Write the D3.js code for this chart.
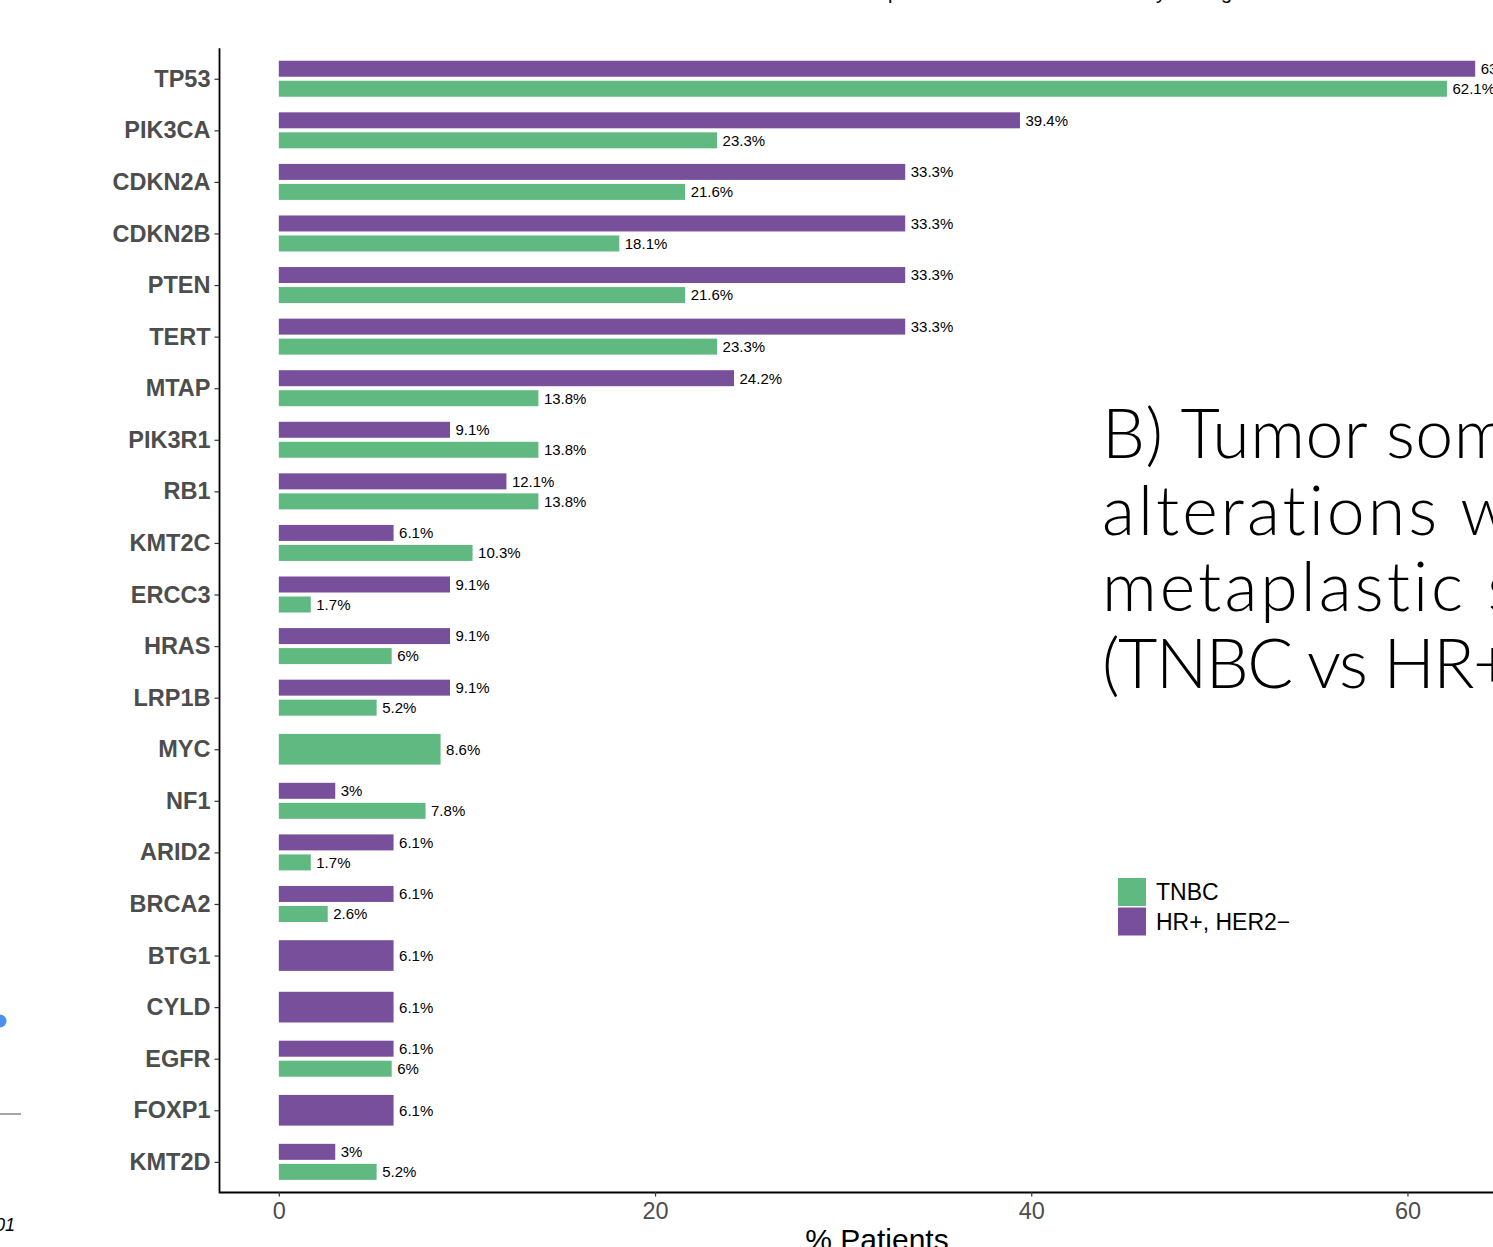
<!DOCTYPE html>
<html>
<head>
<meta charset="utf-8">
<script src="https://cdn.jsdelivr.net/npm/d3@7"></script>
<style>
  html, body { margin: 0; padding: 0; background: #fff; overflow: hidden; }
  svg { display: block; }
</style>
</head>
<body>
<svg id="chart" width="1493" height="1247"></svg>
<script>
// Genes, ordered top to bottom
const genes = ["TP53", "PIK3CA", "CDKN2A", "CDKN2B", "PTEN", "TERT", "MTAP", "PIK3R1",
  "RB1", "KMT2C", "ERCC3", "HRAS", "LRP1B", "MYC", "NF1", "ARID2", "BRCA2", "BTG1",
  "CYLD", "EGFR", "FOXP1", "KMT2D"];

// % of patients with an alteration (null = no alteration in that group)
const hrPos = [63.6, 39.4, 33.3, 33.3, 33.3, 33.3, 24.2, 9.1, 12.1, 6.1, 9.1, 9.1, 9.1,
  null, 3.0, 6.1, 6.1, 6.1, 6.1, 6.1, 6.1, 3.0];
const tnbc = [62.1, 23.3, 21.6, 18.1, 21.6, 23.3, 13.8, 13.8, 13.8, 10.3, 1.7, 6.0, 5.2,
  8.6, 7.8, 1.7, 2.6, null, null, 6.0, null, 5.2];

const seriesNames = ["HR+, HER2\u2212", "TNBC"];
const seriesColors = ["#774f9b", "#60b981"];
const legendOrder = [1, 0];
const xTicks = [0, 20, 40, 60];

const titleLines = ["B) Tumor somatic", "alterations with", "metaplastic subtypes", "(TNBC vs HR+, HER2\u2212)"];

const svg = d3.select("#chart");
const font = "'Liberation Sans', Arial, sans-serif";

// Panel extents
const panel = { left: 219, right: 1535, top: 47, bottom: 1192 };

const maxVal = d3.max([...hrPos, ...tnbc]);
const pad = maxVal * 0.05;
const x = d3.scaleLinear().domain([-pad, maxVal + pad]).range([panel.left, panel.right]);
const y = d3.scalePoint().domain(genes).range([panel.top, panel.bottom]).padding(0.6);
const step = y.step();

// Rows of bars: each gene gets one or two dodged bars
const rows = genes.map((g, i) => {
  const vals = [hrPos[i], tnbc[i]];
  const present = [0, 1].filter(s => vals[s] != null);
  return present.map((s, k) => ({ gene: g, series: s, value: vals[s], k, n: present.length }));
}).flat();

const pairH = step * 0.31;
const pairOff = step * 0.194;
const singleH = step * 0.595;

function barY(d) {
  const c = y(d.gene) + 0.8;
  if (d.n === 1) return c - singleH / 2;
  const cc = c + (d.k === 0 ? -pairOff : pairOff);
  return cc - pairH / 2;
}
function barH(d) { return d.n === 1 ? singleH : pairH; }

const fmt = v => (+v.toFixed(1)) + "%";

const gBars = svg.append("g");
gBars.selectAll("rect")
  .data(rows)
  .join("rect")
  .attr("x", x(0))
  .attr("y", barY)
  .attr("width", d => x(d.value) - x(0))
  .attr("height", barH)
  .attr("fill", d => seriesColors[d.series]);

gBars.selectAll("text")
  .data(rows)
  .join("text")
  .attr("x", d => x(d.value) + 5.5)
  .attr("y", d => barY(d) + barH(d) / 2)
  .attr("dy", "0.36em")
  .attr("font-family", font)
  .attr("font-size", 15)
  .attr("fill", "#000")
  .text(d => fmt(d.value));

// Axes
const yAxis = svg.append("g")
  .attr("transform", `translate(${panel.left},0.8)`)
  .call(d3.axisLeft(y).tickSize(4.5).tickSizeOuter(0).tickPadding(4));
const xAxis = svg.append("g")
  .attr("transform", `translate(0,${panel.bottom})`)
  .call(d3.axisBottom(x).tickValues(xTicks).tickFormat(d3.format("d")).tickSize(4.5).tickSizeOuter(0).tickPadding(6));

[yAxis, xAxis].forEach(a => {
  a.select(".domain").attr("stroke", "#000").attr("stroke-width", 1.8);
  a.selectAll(".tick line").attr("stroke", "#333").attr("stroke-width", 1.2);
});
yAxis.selectAll(".tick text")
  .attr("font-family", font).attr("font-size", 23.5).attr("font-weight", "bold").attr("fill", "#4d4d4d");
xAxis.selectAll(".tick text")
  .attr("font-family", font).attr("font-size", 23.5).attr("fill", "#4d4d4d");

svg.append("text")
  .attr("x", (panel.left + panel.right) / 2)
  .attr("y", 1250)
  .attr("text-anchor", "middle")
  .attr("font-family", font)
  .attr("font-size", 30)
  .attr("fill", "#000")
  .text("% Patients");

// Legend
const legend = svg.append("g").attr("transform", "translate(1118,878)");
legendOrder.forEach((s, i) => {
  legend.append("rect")
    .attr("x", 0).attr("y", i * 29.5)
    .attr("width", 28).attr("height", 28)
    .attr("fill", seriesColors[s]);
  legend.append("text")
    .attr("x", 38).attr("y", i * 29.5 + 14)
    .attr("dy", "0.36em")
    .attr("font-family", font)
    .attr("font-size", 23)
    .attr("fill", "#000")
    .text(seriesNames[s]);
});

// Panel heading overlaid on the right
const lineSpacing = [0.5, 3, 3, -1.5];
const title = svg.append("text")
  .attr("font-family", "Lato, 'Open Sans', sans-serif")
  .attr("font-weight", 300)
  .attr("font-size", 68)
  .style("font-variant-ligatures", "none")
  .style("font-feature-settings", "'liga' 0, 'clig' 0")
  .attr("fill", "#000");
titleLines.forEach((t, i) => {
  title.append("tspan")
    .attr("x", 1102).attr("y", 458 + i * 76.7)
    .style("letter-spacing", lineSpacing[i] + "px")
    .text(t);
});

// Edge of the neighbouring panel on the left
svg.append("circle").attr("cx", 0).attr("cy", 1021).attr("r", 6.5).attr("fill", "#4f8ff0");
svg.append("line").attr("x1", 0).attr("x2", 21).attr("y1", 1114).attr("y2", 1114)
  .attr("stroke", "#888").attr("stroke-width", 1.5);
svg.append("text").attr("x", 15).attr("y", 1231).attr("text-anchor", "end")
  .attr("font-family", font).attr("font-style", "italic").attr("font-size", 18)
  .attr("fill", "#000").text("p<0.001");

// Caption line running off the top edge
const cap = svg.append("g").attr("font-family", font).attr("font-size", 20).attr("fill", "#000");
[["p", 888], ["y", 1156], ["g", 1221]].forEach(([c, cx]) => {
  cap.append("text").attr("x", cx).attr("y", -1).text(c);
});
</script>
</body>
</html>
